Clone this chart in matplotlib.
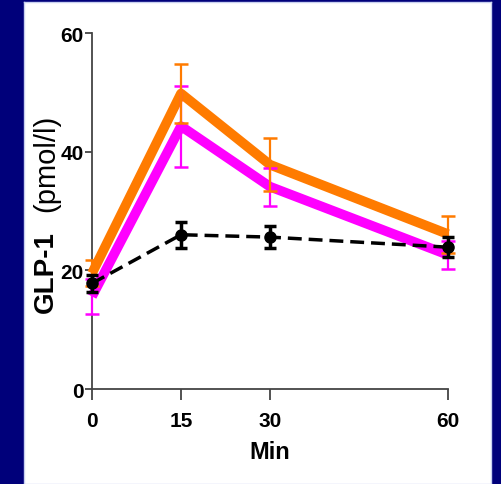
import matplotlib
matplotlib.use("Agg")
import matplotlib.pyplot as plt

# Data
minutes = [0, 15, 30, 60]
orange_mean = [19.5, 49.8, 37.8, 26.1]
orange_err = [2.2, 5.0, 4.5, 3.1]
magenta_mean = [15.6, 44.3, 34.1, 22.6]
magenta_err = [3.0, 6.8, 3.2, 2.4]
black_mean = [17.8, 26.0, 25.6, 23.9]
black_err = [1.4, 2.2, 1.9, 1.7]
x_ticks = [0, 15, 30, 60]
y_ticks = [0, 20, 40, 60]

navy = "#00007a"
font = ["Liberation Sans", "DejaVu Sans"]

fig = plt.figure(figsize=(5.01, 4.85), dpi=100, facecolor=navy)

# white panel behind the chart
panel = fig.add_axes([24 / 501, 0, 467 / 501, 482 / 485])
panel.set_facecolor("white")
panel.set_xticks([])
panel.set_yticks([])
for s in panel.spines.values():
    s.set_color("#c8d0f0")
    s.set_linewidth(1)

ax = fig.add_axes([92 / 501, 1 - 390 / 485, 356 / 501, 356 / 485])
ax.set_facecolor("none")

# thick lines
ax.plot(minutes, orange_mean, color="#ff7b00", lw=7, solid_capstyle="butt", zorder=2, clip_on=False)
ax.plot(minutes, magenta_mean, color="#ff00ff", lw=7, solid_capstyle="butt", zorder=3, clip_on=False)

# error bars
ax.errorbar(minutes, magenta_mean, yerr=magenta_err, fmt="none", ecolor="#ff00ff",
            elinewidth=1.6, capsize=5, capthick=1.8, zorder=4, clip_on=False)
ax.errorbar(minutes, orange_mean, yerr=orange_err, fmt="none", ecolor="#ff7b00",
            elinewidth=1.6, capsize=5, capthick=1.8, zorder=4, clip_on=False)

# dashed black series
ax.errorbar(minutes, black_mean, yerr=black_err, color="black", lw=2.5, ls=(0, (4, 2)),
            marker="o", ms=8, elinewidth=2.5, capsize=4, capthick=2.5, zorder=5, clip_on=False)

ax.set_xlim(0, 60)
ax.set_ylim(0, 60)
ax.set_xticks(x_ticks)
ax.set_yticks(y_ticks)
ax.spines["top"].set_visible(False)
ax.spines["right"].set_visible(False)
for s in ["left", "bottom"]:
    ax.spines[s].set_color("#444444")
    ax.spines[s].set_linewidth(1.3)
ax.tick_params(axis="y", length=5, width=1.3, color="#444444", pad=1)
ax.tick_params(axis="x", length=8, width=1.3, color="#444444", pad=8)
for lab in ax.get_xticklabels() + ax.get_yticklabels():
    lab.set_family(font)
    lab.set_fontweight("bold")
    lab.set_fontsize(15)

ax.set_xlabel("Min", family=font, fontsize=17, fontweight="bold", labelpad=7)

# y label: bold "GLP-1" + regular "(pmol/l)"
fig.text(46 / 501, 1 - 272 / 485, "GLP-1", rotation=90, ha="center", va="center",
         fontsize=20, fontweight="bold", family=font)
fig.text(46 / 501, 1 - 163 / 485, "(pmol/l)", rotation=90, ha="center", va="center",
         fontsize=21, family=font)

fig.savefig("out.png", dpi=100, facecolor=navy)
